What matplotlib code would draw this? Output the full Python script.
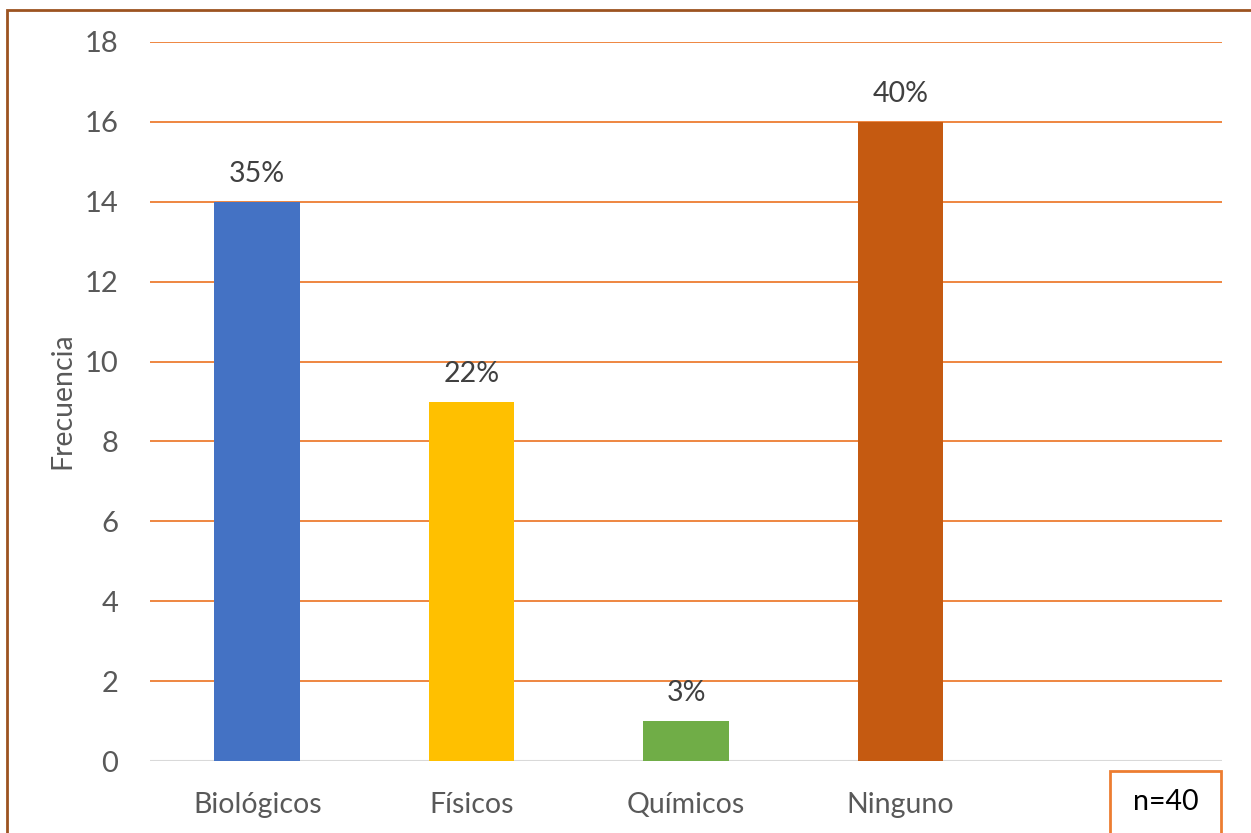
import matplotlib
matplotlib.use("Agg")
import matplotlib.pyplot as plt
from matplotlib.patches import Rectangle

categories = ["Biológicos", "Físicos", "Químicos", "Ninguno", ""]
counts = [14, 9, 1, 16, 0]
pct_labels = ["35%", "22%", "3%", "40%", ""]
bar_colors = ["#4472C4", "#FFC000", "#70AD47", "#C55A11", "#FFFFFF"]
y_ticks = [0, 2, 4, 6, 8, 10, 12, 14, 16, 18]
sample_note = "n=40"

plt.rcParams["font.family"] = ["Lato", "DejaVu Sans"]

W, H = 1251, 833
fig = plt.figure(figsize=(W / 100, H / 100), dpi=100)
ax = fig.add_axes([150 / W, 1 - 761 / H, (1222 - 150) / W, (761 - 42) / H])

xs = list(range(len(categories)))
ax.set_axisbelow(True)
for y in y_ticks[1:]:
    ax.axhline(y, color="#ED7D31", linewidth=1.3, zorder=0)
ax.axhline(0, color="#D9D9D9", linewidth=1.5, zorder=0)

ax.bar(xs[:4], counts[:4], width=0.4, color=bar_colors[:4], zorder=2)
for x, c, lab in zip(xs, counts, pct_labels):
    if lab:
        ax.text(x, c + 0.5, lab, ha="center", va="baseline", fontsize=20.5, color="#404040")

ax.set_xlim(-0.5, 4.5)
ax.set_ylim(0, 18)
ax.set_yticks(y_ticks)
ax.set_yticklabels([str(v) for v in y_ticks], fontsize=21, color="#595959")
ax.set_xticks(xs[:4])
ax.set_xticklabels(categories[:4], fontsize=20.5, color="#595959")
ax.tick_params(axis="both", length=0)
ax.tick_params(axis="y", pad=23)
ax.tick_params(axis="x", pad=22)
for s in ax.spines.values():
    s.set_visible(False)

fig.text(62 / W, 1 - 401 / H, "Frecuencia", rotation=90, ha="center", va="center",
         fontsize=20.5, color="#595959")

# n=40 box
fig.patches.append(Rectangle((1110 / W, 0 - 5 / H), (1221 - 1110) / W, (833 - 771 + 5) / H,
                             transform=fig.transFigure, fill=False, edgecolor="#ED7D31",
                             linewidth=2))
fig.text(1166 / W, 1 - 802 / H, sample_note, ha="center", va="center", fontsize=20.5,
         color="#000000")

# outer chart border (clipped at right/bottom)
fig.patches.append(Rectangle((6.5 / W, -0.05), 1.1, 1 - 9.5 / H + 0.05,
                             transform=fig.transFigure, fill=False, edgecolor="#9C5320",
                             linewidth=2))

fig.savefig("out.png", dpi=100)
